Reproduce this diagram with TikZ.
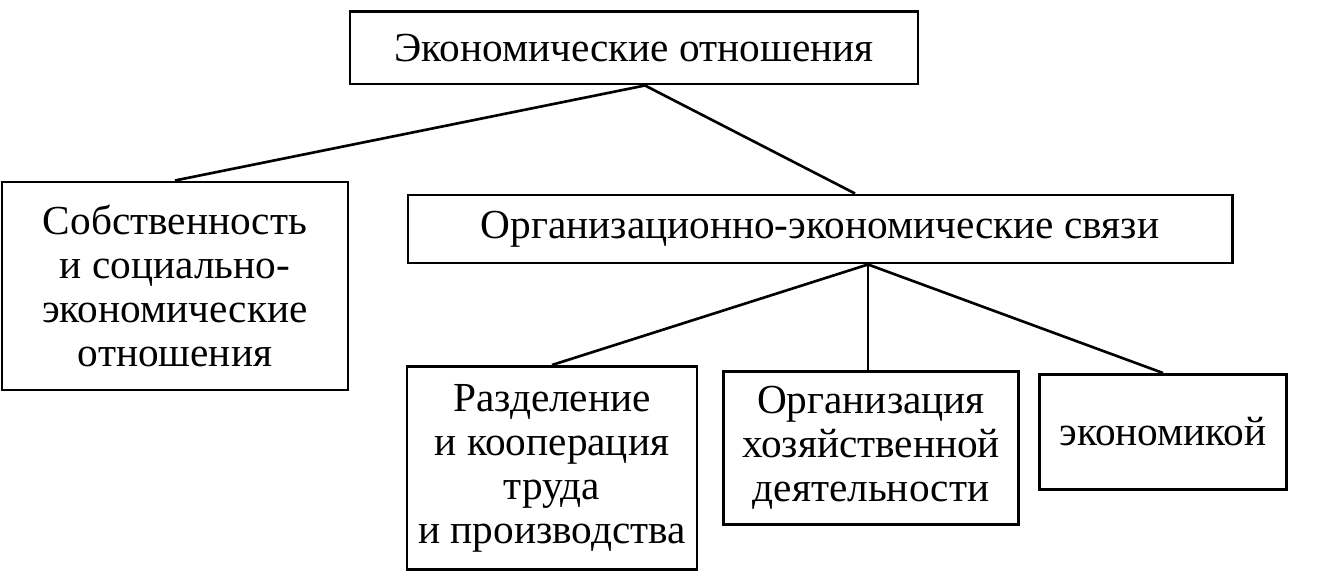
\documentclass[tikz,border=0pt]{standalone}
\usepackage{fontspec}
\setmainfont{Liberation Serif}
\begin{document}
\begin{tikzpicture}[x=0.02cm,y=-0.02cm,
  box/.style={draw,line width=1.7pt,inner sep=0pt,align=center,font=\fontsize{23.5}{25}\selectfont},
  conn/.style={line width=1.5pt}]
\useasboundingbox (0,0) rectangle (1330,580);
\node[box,minimum width=568*0.02cm,minimum height=72*0.02cm] (top) at (634,48) {Экономические отношения};
\node[box,minimum width=346*0.02cm,minimum height=208*0.02cm] (left) at (175,286) {Собственность\\и социально-\\экономические\\отношения};
\node[box,minimum width=824*0.02cm,minimum height=68*0.02cm] (mid) at (820,229) {Организационно-экономические связи};
\node[box,minimum width=290*0.02cm,minimum height=203*0.02cm] (b1) at (552,468) {Разделение\\и кооперация\\труда\\и производства};
\node[box,minimum width=295*0.02cm,minimum height=153*0.02cm] (b2) at (871,448) {Организация\\хозяйственной\\деятельности};
\node[box,minimum width=247*0.02cm,minimum height=115*0.02cm] (b3) at (1163,432) {экономикой};
\draw[conn] (645,0 |- top.south) -- (left.north);
\draw[conn] (645,0 |- top.south) -- (855,0 |- mid.north);
\draw[conn] (868,0 |- mid.south) -- (b1.north);
\draw[conn] (868,0 |- mid.south) -- (868,0 |- b2.north);
\draw[conn] (868,0 |- mid.south) -- (b3.north);
\end{tikzpicture}
\end{document}
